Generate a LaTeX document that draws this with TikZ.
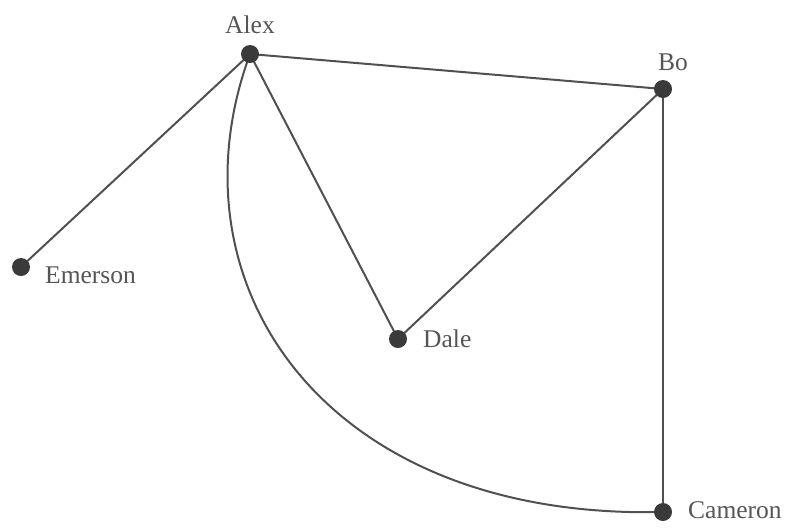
\documentclass[tikz,border=0pt]{standalone}
\usepackage{fontspec}
\setmainfont{Liberation Serif}
\usepackage{tikz}
\usetikzlibrary{positioning,backgrounds}
\definecolor{dotgray}{RGB}{58,58,58}
\definecolor{linegray}{RGB}{80,80,80}
\definecolor{textgray}{RGB}{85,85,85}
\tikzset{
  dot/.style={circle,fill=dotgray,inner sep=0pt,minimum size=18pt},
  lbl/.style={inner sep=0pt,text=textgray,font=\fontsize{25.5}{28}\selectfont},
  edge/.style={draw=linegray,line width=2pt}
}

\begin{document}
\begin{tikzpicture}[x=1pt,y=-1pt]
  \useasboundingbox (0,0) rectangle (786,528);
  \node[dot] (alex) at (250,54) {};
  \node[dot] (bo) at (663,89) {};
  \node[dot] (emerson) at (21,267) {};
  \node[dot] (dale) at (398,339) {};
  \node[dot] (cameron) at (663,512) {};
  \node[lbl,anchor=base] (alexlbl) at (250,33) {Alex};
  \node[lbl,anchor=base west] (bolbl) at (658,70) {Bo};
  \node[lbl,anchor=base west] (emersonlbl) at (45,283) {Emerson};
  \node[lbl,anchor=base west] (dalelbl) at (423,347) {Dale};
  \node[lbl,anchor=base west] (cameronlbl) at (688,518) {Cameron};
  % edges behind the dots
  \begin{scope}[on background layer]
    \draw[edge] (alex.center) -- (bo.center);
    \draw[edge] (alex.center) -- (emerson.center);
    \draw[edge] (alex.center) -- (dale.center);
    \draw[edge] (dale.center) -- (bo.center);
    \draw[edge] (bo.center) -- (cameron.center);
    \draw[edge] (alex.center) .. controls (165,285) and (325,520) .. (cameron.center);
  \end{scope}
\end{tikzpicture}
\end{document}
